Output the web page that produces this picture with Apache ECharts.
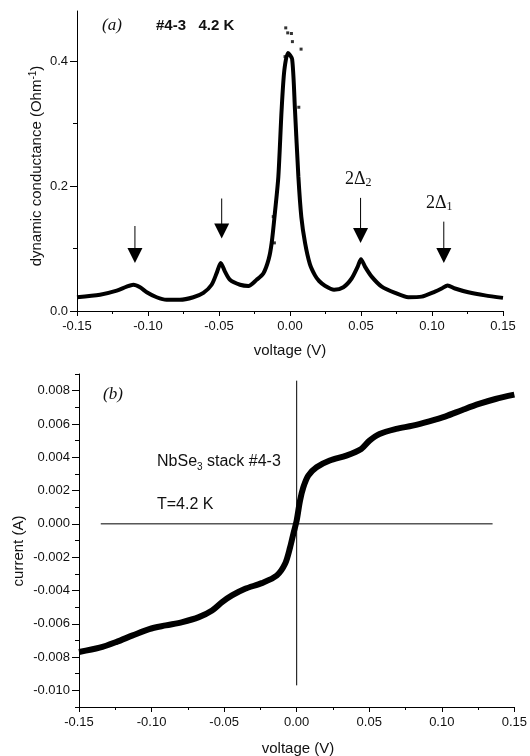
<!DOCTYPE html>
<html>
<head>
<meta charset="utf-8">
<script src="https://cdn.jsdelivr.net/npm/echarts@6/dist/echarts.min.js"></script>
<style>
html,body{margin:0;padding:0;background:#fff;}
#chart{width:530px;height:756px;}
</style>
</head>
<body>
<div id="chart"></div>
<script>
// ---------- Panel (a): dynamic conductance vs voltage ----------
var condV = [-0.150, -0.1338, -0.122, -0.115, -0.1103, -0.1056, -0.1009, -0.0939, -0.0869, -0.0775,
  -0.0681, -0.0610, -0.0552, -0.0516, -0.0488, -0.0458, -0.0423, -0.0352, -0.0293, -0.0235,
  -0.0188, -0.0150, -0.0129, -0.0105, -0.0082, -0.0059, -0.0040, -0.0014, 0.0015, 0.0035,
  0.0059, 0.0080, 0.0106, 0.0140, 0.0176, 0.0205, 0.0246, 0.0310, 0.0376,
  0.0434, 0.0477, 0.0500, 0.0528, 0.0575, 0.0646, 0.0740, 0.0833, 0.0927, 0.1021,
  0.1068, 0.1110, 0.1162, 0.1256, 0.1373, 0.1500];
var condG = [0.022, 0.026, 0.0325, 0.039, 0.042, 0.038, 0.030, 0.022, 0.018, 0.018,
  0.022, 0.029, 0.042, 0.061, 0.077, 0.063, 0.050, 0.042, 0.040, 0.050,
  0.060, 0.083, 0.109, 0.160, 0.215, 0.322, 0.385, 0.413, 0.403, 0.322,
  0.215, 0.150, 0.109, 0.075, 0.057, 0.048, 0.0405, 0.034, 0.038,
  0.052, 0.071, 0.083, 0.071, 0.055, 0.039, 0.029, 0.022, 0.023, 0.031,
  0.036, 0.041, 0.036, 0.030, 0.025, 0.021];
// scattered data points near the central peak
var noiseV = [-0.0030, -0.0016, 0.0010, 0.0017, 0.0078, 0.0062, 0.0045, -0.0110, -0.0118, -0.0035];
var noiseG = [0.453, 0.445, 0.444, 0.431, 0.419, 0.326, 0.282, 0.109, 0.151, 0.407];
// arrows: voltage, conductance at top of shaft, conductance at tip
var arrowV   = [-0.1092, -0.0481, 0.0497, 0.1083];
var arrowTop = [0.136, 0.180, 0.181, 0.143];
var arrowTip = [0.077, 0.116, 0.109, 0.077];
var condTicks = [0, 0.2, 0.4];
var condMinorTicks = [0.1, 0.3];

// ---------- Panel (b): current vs voltage ----------
var ivV = [-0.150, -0.1358, -0.1244, -0.1130, -0.1016, -0.0902, -0.0788, -0.0674, -0.0583, -0.0514,
  -0.0446, -0.0355, -0.0241, -0.0137, -0.0080, -0.0045, -0.0023, 0.0000, 0.0023, 0.0046,
  0.0080, 0.0137, 0.0228, 0.0342, 0.0445, 0.0502, 0.0571, 0.0685, 0.0799, 0.0913,
  0.1027, 0.1142, 0.1256, 0.1370, 0.1500];
var ivI = [-0.0077, -0.00744, -0.0071, -0.0067, -0.00632, -0.0061, -0.0059, -0.0056, -0.0052, -0.0047,
  -0.0043, -0.0039, -0.00356, -0.0031, -0.0024, -0.0014, -0.0006, 0.0002, 0.0014, 0.0022,
  0.0029, 0.0034, 0.0038, 0.0041, 0.0045, 0.0050, 0.0054, 0.0057, 0.0059, 0.00616,
  0.00646, 0.00684, 0.0072, 0.0075, 0.00776];
var hLineV = [-0.135, 0.135];
var vLineI = [-0.0097, 0.0086];
var ivTicks = [-0.010, -0.008, -0.006, -0.004, -0.002, 0.000, 0.002, 0.004, 0.006, 0.008];
var ivMinorTicks = [-0.011, -0.009, -0.007, -0.005, -0.003, -0.001, 0.001, 0.003, 0.005, 0.007, 0.009];

var SANS = '"Liberation Sans", Arial, Helvetica, sans-serif';
var SERIF = '"Liberation Serif", "Times New Roman", serif';
var TXT = '#111';

function xAxisCfg(gi) {
  return {
    gridIndex: gi, type: 'value', position: 'bottom', min: -0.15, max: 0.15, interval: 0.05,
    axisLine: {show: true, onZero: false, lineStyle: {color: '#000', width: 1}},
    axisTick: {show: true, inside: false, length: 5, lineStyle: {color: '#000'}},
    minorTick: {show: true, splitNumber: 2, length: 3, lineStyle: {color: '#000'}},
    splitLine: {show: false},
    axisLabel: {margin: 9, color: TXT, fontFamily: SANS, fontSize: 13,
      formatter: function (v) { return Math.abs(v) < 1e-9 ? '0.00' : v.toFixed(2); }}
  };
}
function yAxisCfg(gi, mn, mx, ticks, fmt) {
  return {gridIndex: gi, type: 'value', position: 'left', min: mn, max: mx,
    axisLine: {show: true, onZero: false, lineStyle: {color: '#000', width: 1}},
    axisTick: {show: true, inside: false, length: 7, customValues: ticks, lineStyle: {color: '#000'}},
    splitLine: {show: false},
    axisLabel: {margin: 9, color: TXT, fontFamily: SANS, fontSize: 13, customValues: ticks, formatter: fmt}};
}
function yMinorCfg(gi, mn, mx, ticks) {
  return {gridIndex: gi, type: 'value', position: 'left', offset: 0, min: mn, max: mx,
    axisLine: {show: false, onZero: false}, splitLine: {show: false}, axisLabel: {show: false},
    axisTick: {show: true, inside: false, length: 4, customValues: ticks, lineStyle: {color: '#000'}}};
}

var option = {
  animation: false,
  backgroundColor: '#fff',
  grid: [
    {left: 77, top: 11, width: 426, height: 300},
    {left: 79, top: 374, width: 438, height: 333}
  ],
  xAxis: [xAxisCfg(0), xAxisCfg(1)],
  yAxis: [
    yAxisCfg(0, 0, 0.48, condTicks, function (v) { return v.toFixed(1); }),
    yMinorCfg(0, 0, 0.48, condMinorTicks),
    yAxisCfg(1, -0.011, 0.009, ivTicks, function (v) { return Math.abs(v) < 1e-9 ? '0.000' : v.toFixed(3); }),
    yMinorCfg(1, -0.011, 0.009, ivMinorTicks)
  ],
  series: [
    {type: 'line', xAxisIndex: 0, yAxisIndex: 0, showSymbol: false, smooth: 0.25,
      lineStyle: {color: '#000', width: 4}, itemStyle: {color: '#000'},
      data: condV.map(function (v, i) { return [v, condG[i]]; })},
    {type: 'scatter', xAxisIndex: 0, yAxisIndex: 0, symbol: 'rect', symbolSize: 3,
      itemStyle: {color: '#000'},
      data: noiseV.map(function (v, i) { return [v, noiseG[i]]; })},
    {type: 'custom', xAxisIndex: 0, yAxisIndex: 0, clip: false,
      data: arrowV.map(function (v, i) { return [v, arrowTop[i], arrowTip[i]]; }),
      renderItem: function (params, api) {
        var p1 = api.coord([api.value(0), api.value(1)]);
        var p2 = api.coord([api.value(0), api.value(2)]);
        return {type: 'group', children: [
          {type: 'line', shape: {x1: p1[0], y1: p1[1], x2: p2[0], y2: p2[1] - 14},
            style: {stroke: '#000', lineWidth: 1}},
          {type: 'polygon', shape: {points: [[p2[0] - 7.5, p2[1] - 15], [p2[0] + 7.5, p2[1] - 15], [p2[0], p2[1]]]},
            style: {fill: '#000'}}
        ]};
      }},
    {type: 'line', xAxisIndex: 1, yAxisIndex: 2, showSymbol: false, smooth: 0.3,
      lineStyle: {color: '#000', width: 6}, itemStyle: {color: '#000'},
      data: ivV.map(function (v, i) { return [v, ivI[i]]; })},
    {type: 'line', xAxisIndex: 1, yAxisIndex: 2, showSymbol: false,
      lineStyle: {color: '#000', width: 1},
      data: hLineV.map(function (v) { return [v, 0]; })},
    {type: 'line', xAxisIndex: 1, yAxisIndex: 2, showSymbol: false,
      lineStyle: {color: '#000', width: 1},
      data: vLineI.map(function (c) { return [0, c]; })}
  ],
  graphic: [
    {type: 'text', x: 102, y: 26, style: {text: '(a)', fill: TXT, fontFamily: SERIF, fontStyle: 'italic',
      fontSize: 17, align: 'left', verticalAlign: 'middle'}},
    {type: 'text', x: 156, y: 26, style: {text: '#4-3   4.2 K', fill: TXT, fontFamily: SANS, fontWeight: 'bold',
      fontSize: 15, align: 'left', verticalAlign: 'middle'}},
    {type: 'text', x: 345, y: 179, style: {text: '{m|2Δ}{s|2}', align: 'left', verticalAlign: 'middle',
      rich: {m: {fontFamily: SERIF, fontSize: 18, fill: TXT, lineHeight: 20},
             s: {fontFamily: SERIF, fontSize: 12, fill: TXT, lineHeight: 10, verticalAlign: 'bottom'}}}},
    {type: 'text', x: 426, y: 203, style: {text: '{m|2Δ}{s|1}', align: 'left', verticalAlign: 'middle',
      rich: {m: {fontFamily: SERIF, fontSize: 18, fill: TXT, lineHeight: 20},
             s: {fontFamily: SERIF, fontSize: 12, fill: TXT, lineHeight: 10, verticalAlign: 'bottom'}}}},
    {type: 'text', x: 37, y: 166, rotation: Math.PI / 2,
      style: {text: '{m|dynamic conductance (Ohm}{u|-1}{m|)}', align: 'center', verticalAlign: 'middle',
        rich: {m: {fontFamily: SANS, fontSize: 15, fill: TXT, lineHeight: 18},
               u: {fontFamily: SANS, fontSize: 10, fill: TXT, lineHeight: 10, verticalAlign: 'top'}}}},
    {type: 'text', x: 290, y: 351, style: {text: 'voltage (V)', fill: TXT, fontFamily: SANS, fontSize: 15,
      align: 'center', verticalAlign: 'middle'}},
    {type: 'text', x: 103, y: 395, style: {text: '(b)', fill: TXT, fontFamily: SERIF, fontStyle: 'italic',
      fontSize: 17, align: 'left', verticalAlign: 'middle'}},
    {type: 'text', x: 157, y: 462, style: {text: '{m|NbSe}{s|3}{m| stack #4-3}', align: 'left', verticalAlign: 'middle',
      rich: {m: {fontFamily: SANS, fontSize: 16, fill: TXT, lineHeight: 20},
             s: {fontFamily: SANS, fontSize: 10, fill: TXT, lineHeight: 9, verticalAlign: 'bottom'}}}},
    {type: 'text', x: 157, y: 505, style: {text: 'T=4.2 K', fill: TXT, fontFamily: SANS, fontSize: 16,
      align: 'left', verticalAlign: 'middle'}},
    {type: 'text', x: 19, y: 551, rotation: Math.PI / 2,
      style: {text: 'current (A)', fill: TXT, fontFamily: SANS, fontSize: 15, align: 'center', verticalAlign: 'middle'}},
    {type: 'text', x: 298, y: 749, style: {text: 'voltage (V)', fill: TXT, fontFamily: SANS, fontSize: 15,
      align: 'center', verticalAlign: 'middle'}}
  ]
};

var chart = echarts.init(document.getElementById('chart'), null, {renderer: 'canvas'});
chart.setOption(option);
</script>
</body>
</html>
